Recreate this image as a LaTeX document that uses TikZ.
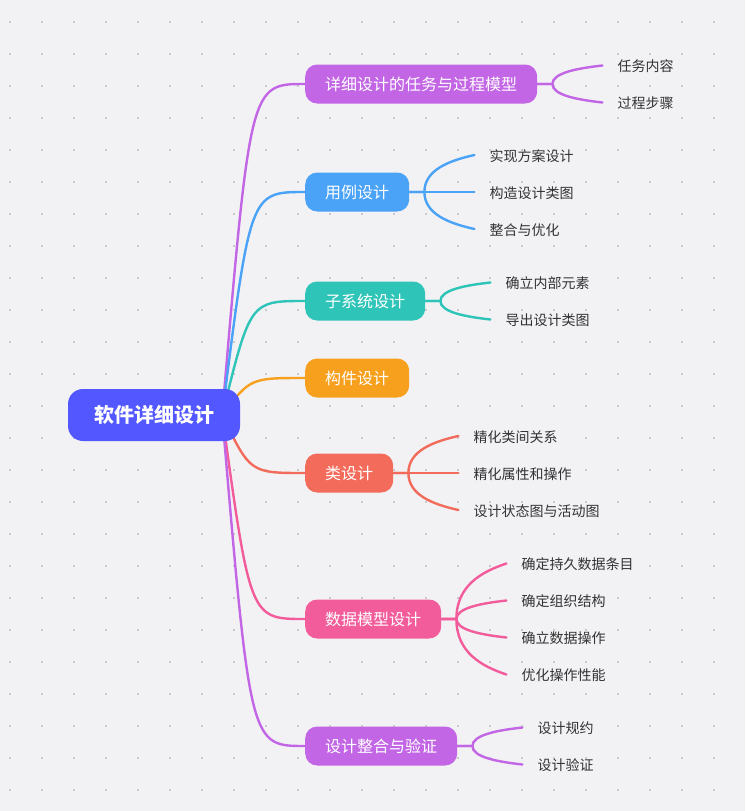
\documentclass[tikz,border=0pt]{standalone}
\usepackage{fontspec}
\setmainfont{Noto Sans CJK SC}
\usetikzlibrary{positioning,calc,backgrounds}
\definecolor{bgc}{HTML}{F2F2F5}
\definecolor{dotc}{HTML}{CACACE}
\definecolor{rootc}{HTML}{5257FF}
\definecolor{cP}{HTML}{C366E6}
\definecolor{cB}{HTML}{4AA3F7}
\definecolor{cT}{HTML}{2EC4B8}
\definecolor{cO}{HTML}{F7A01E}
\definecolor{cR}{HTML}{F26B5B}
\definecolor{cK}{HTML}{F25C9B}
\definecolor{leaftext}{HTML}{333333}

\begin{document}
\begin{tikzpicture}[x=1pt,y=-1pt,
    root/.style={fill=rootc,text=white,rounded corners=15pt,minimum height=52pt,
      inner xsep=26pt,font=\fontsize{20}{24}\selectfont\bfseries},
    branch/.style={fill=#1,text=white,rounded corners=12pt,minimum height=39pt,
      inner xsep=20pt,anchor=west,font=\fontsize{16}{19}\selectfont},
    leaf/.style={text=leaftext,inner xsep=15pt,inner ysep=0pt,anchor=west,
      font=\fontsize{14}{17}\selectfont},
    link/.style={line width=2.4pt,line cap=round}]
    \useasboundingbox (0,0) rectangle (745,811);
    % root and branches
    \node[root] (root) at (154,415) {软件详细设计};
    \coordinate (hub) at ([xshift=-18pt]root.east);
    \node[branch=cP] (b1) at (305,84) {详细设计的任务与过程模型};
    \node[branch=cB] (b2) at (305,192) {用例设计};
    \node[branch=cT] (b3) at (305,301) {子系统设计};
    \node[branch=cO] (b4) at (305,378) {构件设计};
    \node[branch=cR] (b5) at (305,473) {类设计};
    \node[branch=cK] (b6) at (305,619) {数据模型设计};
    \node[branch=cP] (b7) at (305,746) {设计整合与验证};
    % leaves
    \foreach \b/\c/\list in {b1/cP/{任务内容/-18.5,过程步骤/18.5},
        b2/cB/{实现方案设计/-37,构造设计类图/0,整合与优化/37},
        b3/cT/{确立内部元素/-18.5,导出设计类图/18.5},
        b5/cR/{精化类间关系/-37,精化属性和操作/0,设计状态图与活动图/37},
        b6/cK/{确定持久数据条目/-55.5,确定组织结构/-18.5,确立数据操作/18.5,优化操作性能/55.5},
        b7/cP/{设计规约/-18.5,设计验证/18.5}}{
      \coordinate (j\b) at ([xshift=15pt]\b.east);
      \foreach \t/\d [count=\i] in \list{
        \node[leaf] (\b l\i) at ($(\b.east)+(65,\d)$) {\raisebox{-1pt}[\height][\depth]{\t}};
        \draw[link,\c] (\b.east) -- (j\b)
          .. controls ($(j\b)!0.6!(j\b |- \b l\i.west)$) and ($(\b l\i.west)+(-25,-0.15*\d)$)
          .. (\b l\i.west);
      }
    }
    \begin{pgfonlayer}{background}
      \fill[bgc] (0,0) rectangle (745,811);
      \foreach \i in {0,...,22}
        \foreach \j in {0,...,24}
          \fill[dotc] (9+32*\i,21+32*\j) rectangle ++(2,2);
      % links from root
      \foreach \b/\c in {b1/cP,b2/cB,b3/cT,b4/cO,b5/cR,b6/cK,b7/cP}
        \draw[link,\c] (hub) .. controls ($(hub |- \b.west)+(28,0)$) .. (\b.west);
    \end{pgfonlayer}
\end{tikzpicture}
\end{document}
